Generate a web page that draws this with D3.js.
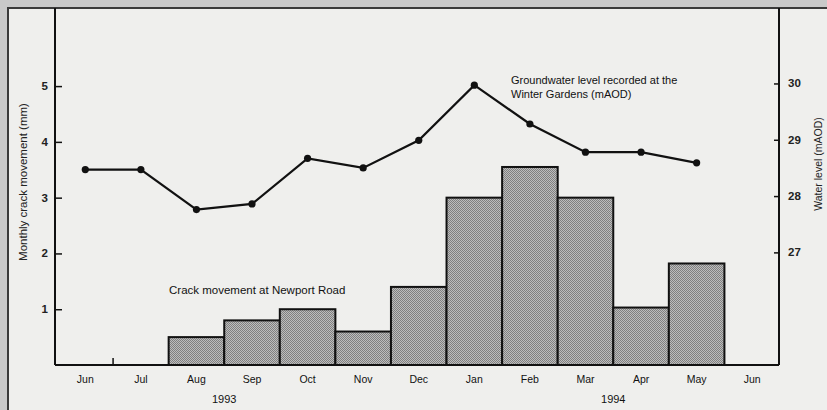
<!DOCTYPE html>
<html>
<head>
<meta charset="utf-8">
<script src="https://cdn.jsdelivr.net/npm/d3@7"></script>
<style>
  html, body { margin: 0; padding: 0; background: #c9c9c9; }
  svg { display: block; font-family: "Liberation Sans", Arial, sans-serif; }
</style>
</head>
<body>
<svg width="827" height="410"></svg>
<script>
// month keys (two Junes, so keep the year in the key)
const monthKeys = ["Jun93", "Jul93", "Aug93", "Sep93", "Oct93", "Nov93", "Dec93",
                   "Jan94", "Feb94", "Mar94", "Apr94", "May94", "Jun94"];
const monthLabels = ["Jun", "Jul", "Aug", "Sep", "Oct", "Nov", "Dec",
                     "Jan", "Feb", "Mar", "Apr", "May", "Jun"];

// monthly crack movement (mm) at Newport Road
const crackValues = [null, null, 0.5, 0.8, 1.0, 0.6, 1.4, 3.0, 3.55, 3.0, 1.03, 1.82, null];

// groundwater level at the Winter Gardens (mAOD)
const waterValues = [28.47, 28.47, 27.76, 27.86, 28.67, 28.5, 28.99, 29.97, 29.28, 28.78, 28.78, 28.59, null];

const leftTicks = [1, 2, 3, 4, 5];
const rightTicks = [27, 28, 29, 30];
const years = [{ label: "1993", at: "Sep93" }, { label: "1994", at: "Apr94" }];

const svg = d3.select("svg");

// fondo: margen gris y hoja clara con marco
svg.append("rect").attr("width", 827).attr("height", 410).attr("fill", "#c9c9c9");
svg.append("rect")
    .attr("x", 8).attr("y", 8)
    .attr("width", 840).attr("height", 420)
    .attr("fill", "#efefed")
    .attr("stroke", "#3a3a3a")
    .attr("stroke-width", 2);

// trama de puntos para las barras
const defs = svg.append("defs");
const pat = defs.append("pattern")
    .attr("id", "dots")
    .attr("patternUnits", "userSpaceOnUse")
    .attr("width", 2).attr("height", 2);
pat.append("rect").attr("width", 2).attr("height", 2).attr("fill", "#bdbdbd");
pat.append("rect").attr("width", 1).attr("height", 1).attr("fill", "#808080");
pat.append("rect").attr("x", 1).attr("y", 1).attr("width", 1).attr("height", 1).attr("fill", "#808080");

const plotLeft = 55, plotRight = 779, plotTop = 8, plotBottom = 365;

const x = d3.scaleBand()
    .domain(monthKeys)
    .range([57.5, 780])
    .padding(0);

const yLeft = d3.scaleLinear()
    .domain([0, 6.4])
    .range([plotBottom, plotTop]);

const yRight = d3.scaleLinear()
    .domain([25, 31.34])
    .range([plotBottom, plotTop]);

// barras de movimiento de fisura
const barData = monthKeys.map((k, i) => ({ key: k, value: crackValues[i] }))
    .filter(d => d.value != null);

svg.append("g")
    .selectAll("rect")
    .data(barData)
    .join("rect")
    .attr("x", d => x(d.key))
    .attr("y", d => yLeft(d.value))
    .attr("width", x.bandwidth())
    .attr("height", d => yLeft(0) - yLeft(d.value))
    .attr("fill", "url(#dots)")
    .attr("stroke", "#111")
    .attr("stroke-width", 2);

// ejes
svg.append("line")
    .attr("x1", plotLeft).attr("x2", plotLeft)
    .attr("y1", plotTop).attr("y2", plotBottom)
    .attr("stroke", "#111").attr("stroke-width", 2);
svg.append("line")
    .attr("x1", plotRight).attr("x2", plotRight)
    .attr("y1", plotTop).attr("y2", plotBottom)
    .attr("stroke", "#111").attr("stroke-width", 2);
svg.append("line")
    .attr("x1", plotLeft).attr("x2", plotRight)
    .attr("y1", plotBottom).attr("y2", plotBottom)
    .attr("stroke", "#111").attr("stroke-width", 2);

// marca suelta entre Jun y Jul
svg.append("line")
    .attr("x1", x("Jul93")).attr("x2", x("Jul93"))
    .attr("y1", plotBottom - 7).attr("y2", plotBottom)
    .attr("stroke", "#111").attr("stroke-width", 1.5);

// eje izquierdo: ticks hacia dentro
const leftAxis = svg.append("g")
    .attr("transform", `translate(${plotLeft},0)`)
    .call(d3.axisRight(yLeft).tickValues(leftTicks).tickSize(7).tickFormat(""));
leftAxis.select(".domain").remove();
leftAxis.selectAll("line").attr("stroke", "#111").attr("stroke-width", 1.5);

svg.append("g")
    .selectAll("text")
    .data(leftTicks)
    .join("text")
    .attr("x", 48)
    .attr("y", d => yLeft(d))
    .attr("dy", "0.35em")
    .attr("text-anchor", "end")
    .attr("font-size", 11.5)
    .attr("font-weight", "bold")
    .attr("fill", "#222")
    .text(d => d);

// eje derecho
const rightAxis = svg.append("g")
    .attr("transform", `translate(${plotRight},0)`)
    .call(d3.axisLeft(yRight).tickValues(rightTicks).tickSize(5).tickFormat(""));
rightAxis.select(".domain").remove();
rightAxis.selectAll("line").attr("stroke", "#111").attr("stroke-width", 1.5);

svg.append("g")
    .selectAll("text")
    .data(rightTicks)
    .join("text")
    .attr("x", 788)
    .attr("y", d => yRight(d))
    .attr("dy", "0.35em")
    .attr("font-size", 11.5)
    .attr("font-weight", "bold")
    .attr("fill", "#222")
    .text(d => d);

// meses y años
svg.append("g")
    .selectAll("text")
    .data(monthKeys)
    .join("text")
    .attr("x", d => x(d) + x.bandwidth() / 2)
    .attr("y", 383)
    .attr("text-anchor", "middle")
    .attr("font-size", 10.5)
    .attr("fill", "#111")
    .text((d, i) => monthLabels[i]);

svg.append("g")
    .selectAll("text")
    .data(years)
    .join("text")
    .attr("x", d => x(d.at))
    .attr("y", 403)
    .attr("text-anchor", "middle")
    .attr("font-size", 11)
    .attr("fill", "#111")
    .text(d => d.label);

// títulos de ejes
svg.append("text")
    .attr("transform", "translate(27,182) rotate(-90)")
    .attr("text-anchor", "middle")
    .attr("font-size", 11.5)
    .attr("fill", "#222")
    .text("Monthly crack movement (mm)");

svg.append("text")
    .attr("transform", "translate(822,164) rotate(-90)")
    .attr("text-anchor", "middle")
    .attr("font-size", 10.5)
    .attr("fill", "#222")
    .text("Water level (mAOD)");

// línea del nivel freático
const lineData = monthKeys.map((k, i) => ({ key: k, value: waterValues[i] }))
    .filter(d => d.value != null);

const line = d3.line()
    .x(d => x(d.key) + x.bandwidth() / 2)
    .y(d => yRight(d.value));

svg.append("path")
    .datum(lineData)
    .attr("d", line)
    .attr("fill", "none")
    .attr("stroke", "#111")
    .attr("stroke-width", 2.2);

svg.append("g")
    .selectAll("circle")
    .data(lineData)
    .join("circle")
    .attr("cx", d => x(d.key) + x.bandwidth() / 2)
    .attr("cy", d => yRight(d.value))
    .attr("r", 3.6)
    .attr("fill", "#111");

// anotaciones
const note = svg.append("text")
    .attr("x", 511)
    .attr("y", 84)
    .attr("font-size", 11)
    .attr("fill", "#111");
note.append("tspan").attr("x", 511).text("Groundwater level recorded at the");
note.append("tspan").attr("x", 511).attr("dy", 13.5).text("Winter Gardens (mAOD)");

svg.append("text")
    .attr("x", 169)
    .attr("y", 294)
    .attr("font-size", 11.5)
    .attr("fill", "#111")
    .text("Crack movement at Newport Road");
</script>
</body>
</html>
